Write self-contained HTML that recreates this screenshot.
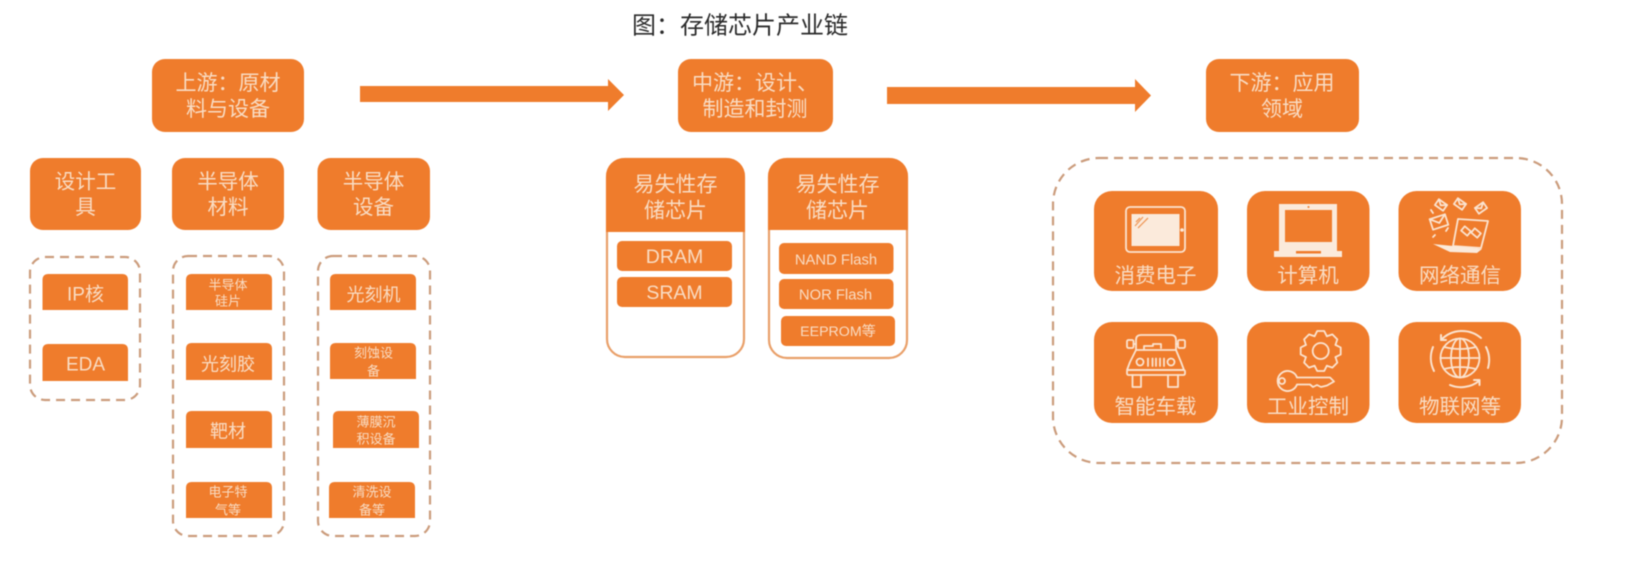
<!DOCTYPE html>
<html lang="zh"><head><meta charset="utf-8"><title>存储芯片产业链</title>
<style>
html,body{margin:0;padding:0;background:#fff;width:1638px;height:570px;overflow:hidden}
svg{display:block;filter:blur(.6px)}
text{font-family:"Liberation Sans","Noto Sans CJK SC",sans-serif;text-anchor:middle;dominant-baseline:central;fill:#f9dcc3}
.o{fill:#ef7c2c}
.d{fill:none;stroke:#cb9c7c;stroke-width:2.2;stroke-dasharray:9 6}
.i{fill:none;stroke:#fbe3cf;stroke-width:1.8;stroke-linejoin:round;stroke-linecap:round}
.f{fill:#fbeadb}
</style></head><body>
<svg width="1638" height="570" viewBox="0 0 1638 570" xmlns="http://www.w3.org/2000/svg">
<text x="740" y="26" font-size="24" style="fill:#2b2b2b">图：存储芯片产业链</text>

<!-- top boxes -->
<rect class="o" x="152" y="59" width="152" height="73" rx="13"/>
<rect class="o" x="678" y="59" width="155" height="73" rx="13"/>
<rect class="o" x="1206" y="59" width="153" height="73" rx="13"/>
<g font-size="21">
<text x="228" y="83.500">上游：原材</text><text x="228" y="109.500">料与设备</text>
<text x="755" y="83.500">中游：设计、</text><text x="755" y="109.500">制造和封测</text>
<text x="1282" y="83.500">下游：应用</text><text x="1282" y="109.500">领域</text>
</g>

<!-- arrows -->
<polygon class="o" points="360,86 608,86 608,79 624,95 608,111 608,102 360,102"/>
<polygon class="o" points="887,87 1135,87 1135,79 1151,95.5 1135,112 1135,104 887,104"/>

<!-- upstream -->
<rect class="o" x="30" y="158" width="111" height="72" rx="13"/>
<rect class="o" x="172" y="158" width="112" height="72" rx="13"/>
<rect class="o" x="317.500" y="158" width="112.500" height="72" rx="13"/>
<g font-size="20.500">
<text x="85.500" y="182">设计工</text><text x="85.500" y="207.500">具</text>
<text x="228" y="182">半导体</text><text x="228" y="207.500">材料</text>
<text x="373.500" y="182">半导体</text><text x="373.500" y="207.500">设备</text>
</g>
<rect class="d" x="30" y="257" width="110" height="143" rx="15"/>
<rect class="d" x="173" y="256" width="111" height="280" rx="15"/>
<rect class="d" x="318" y="256" width="112" height="280" rx="15"/>

<g class="o">
<path d="M42.500 310V280Q42.500 274 48.500 274H122Q128 274 128 280V310Z"/>
<path d="M42.500 381V350Q42.500 344 48.500 344H122Q128 344 128 350V381Z"/>
<path d="M186 310V280Q186 274 192 274H266Q272 274 272 280V310Z"/>
<path d="M186 380V349Q186 343 192 343H266Q272 343 272 349V380Z"/>
<path d="M186 448V417Q186 411 192 411H266Q272 411 272 417V448Z"/>
<path d="M186 518V488Q186 482 192 482H266Q272 482 272 488V518Z"/>
<path d="M330 310V280Q330 274 336 274H410Q416 274 416 280V310Z"/>
<path d="M330 379V349Q330 343 336 343H410Q416 343 416 349V379Z"/>
<path d="M333 448V417Q333 411 339 411H413Q419 411 419 417V448Z"/>
<path d="M329 518V488Q329 482 335 482H409Q415 482 415 488V518Z"/>
</g>
<g font-size="18">
<text x="85.500" y="295" font-size="19">IP核</text>
<text x="85.500" y="365" font-size="19">EDA</text>
<text x="228" y="364.500">光刻胶</text>
<text x="228" y="431.500">靶材</text>
<text x="373.500" y="295">光刻机</text>
</g>
<g font-size="13">
<text x="228" y="285">半导体</text><text x="228" y="301">硅片</text>
<text x="228" y="492">电子特</text><text x="228" y="510">气等</text>
<text x="373.500" y="353">刻蚀设</text><text x="373.500" y="371">备</text>
<text x="376" y="422">薄膜沉</text><text x="376" y="439">积设备</text>
<text x="372" y="492">清洗设</text><text x="372" y="510">备等</text>
</g>

<!-- midstream -->
<rect x="607" y="159" width="137" height="198" rx="18" fill="#fff" stroke="#e9a06a" stroke-width="2.200"/>
<rect x="769" y="159" width="138" height="199" rx="18" fill="#fff" stroke="#e9a06a" stroke-width="2.200"/>
<path class="o" d="M606 232V176a18 18 0 0 1 18-18H727a18 18 0 0 1 18 18V232Z"/>
<path class="o" d="M768 230V176a18 18 0 0 1 18-18H890a18 18 0 0 1 18 18V230Z"/>
<g font-size="21">
<text x="675.500" y="185">易失性存</text><text x="675.500" y="211">储芯片</text>
<text x="837.500" y="185">易失性存</text><text x="837.500" y="211">储芯片</text>
</g>
<rect class="o" x="617" y="241" width="115" height="30" rx="5"/>
<rect class="o" x="617" y="277" width="115" height="30" rx="5"/>
<rect class="o" x="779" y="243" width="114.500" height="31" rx="5"/>
<rect class="o" x="779" y="279" width="114.500" height="30" rx="5"/>
<rect class="o" x="781" y="316" width="114" height="30" rx="5"/>
<text x="674.500" y="257" font-size="19.500">DRAM</text>
<text x="674.500" y="293" font-size="19.500">SRAM</text>
<text x="836" y="260.500" font-size="14.800">NAND Flash</text>
<text x="835.500" y="295.500" font-size="14.800">NOR Flash</text>
<text x="838" y="332" font-size="14.200">EEPROM等</text>

<!-- downstream -->
<rect class="d" x="1053" y="158" width="509" height="305" rx="46"/>
<g class="o">
<rect x="1094" y="191" width="124" height="100" rx="18"/>
<rect x="1247" y="191" width="122.500" height="100" rx="18"/>
<rect x="1398.500" y="191" width="122.500" height="100" rx="18"/>
<rect x="1094" y="322" width="124" height="101" rx="18"/>
<rect x="1247" y="322" width="122.500" height="101" rx="18"/>
<rect x="1398.500" y="322" width="122.500" height="101" rx="18"/>
</g>
<g font-size="20.500">
<text x="1155.500" y="276">消费电子</text>
<text x="1308" y="276">计算机</text>
<text x="1460" y="276">网络通信</text>
<text x="1155.500" y="407">智能车载</text>
<text x="1308" y="407">工业控制</text>
<text x="1460" y="407">物联网等</text>
</g>

<!-- tablet -->
<g transform="translate(1094 191)">
<rect class="i" x="32" y="16" width="59" height="45" rx="4" stroke-width="2"/>
<rect class="f" x="37.500" y="23" width="48" height="32"/>
<path d="M41 35L49 26M44 37L54 27M42 31L46 27" stroke="#ef9a5c" stroke-width="1.300" fill="none"/>
<circle cx="88" cy="39" r="1.800" class="f"/>
</g>
<!-- laptop -->
<g transform="translate(1094 191)">
<path class="f" fill-rule="evenodd" d="M185 13H243V60H185ZM191 19V51H238V19Z"/>
<path class="f" d="M180 60H248V66H180Z"/>
<rect x="202" y="60" width="25" height="2.500" fill="#ef7c2c"/>
<circle cx="214.500" cy="16" r="1" fill="#ef7c2c"/>
</g>
<!-- network -->
<g transform="translate(1398 191)">
<path class="i" d="M60 28L90 30L83 57L55 55Z" stroke-width="1.600"/>
<path class="f" d="M35 53L55 55L84 58L79 62L52 61Z"/>
<g class="i" stroke-width="1.300">
<g transform="translate(41 31) rotate(-18)"><rect x="-8" y="-5.500" width="16" height="11"/><path d="M-8 -5.500L0 1L8 -5.500"/></g>
<g transform="translate(43 14) rotate(35)"><rect x="-5" y="-3.500" width="10" height="7"/><path d="M-5 -3.500L0 .5L5 -3.500"/></g>
<g transform="translate(62 13) rotate(35)"><rect x="-5" y="-3.500" width="10" height="7"/><path d="M-5 -3.500L0 .5L5 -3.500"/></g>
<g transform="translate(83 17) rotate(-35)"><rect x="-5" y="-3.500" width="10" height="7"/><path d="M-5 -3.500L0 .5L5 -3.500"/></g>
<g transform="translate(68 40) rotate(40)"><rect x="-4" y="-2.800" width="8" height="5.600"/></g>
<g transform="translate(78 42) rotate(40)"><rect x="-4" y="-2.800" width="8" height="5.600"/></g>
</g>
<path class="i" d="M33 19L35 22M35 46L37 44M50 37L48 40" stroke-width="1.100"/>
</g>
<!-- car -->
<g transform="translate(1094 322)" class="i" stroke-width="2">
<rect x="33" y="18" width="6.500" height="8" rx="1.500"/>
<rect x="84" y="18" width="7" height="8" rx="1.500"/>
<path d="M42 28V18Q42 13 47 13H77Q82 13 82 18V28"/>
<path d="M39.500 22H42M82 22H84"/>
<path d="M50 27V24H59V22H67V26"/>
<path d="M42 28H82L87 40L90 48H33L36 40Z"/>
<rect x="33" y="48" width="58" height="5" rx="1.500"/>
<path d="M38.500 53V65H47V53M74 53V65H84V53"/>
<circle cx="46" cy="40" r="3.500"/><circle cx="77" cy="40" r="3.500"/>
<path d="M54 36.500V44M58.500 36.500V44M62 36.500V44M66 36.500V44M70 36.500V44"/>
</g>
<!-- gear and key -->
<g transform="translate(1320.700 351)" class="i" stroke-width="2">
<circle r="8"/>
<polyline points="14.800,-6.100 20,-3.500 20,3.500 14.800,6.100"/>
<polyline transform="rotate(45)" points="14.800,-6.100 20,-3.500 20,3.500 14.800,6.100"/>
<polyline transform="rotate(90)" points="14.800,-6.100 20,-3.500 20,3.500 14.800,6.100"/>
<polyline transform="rotate(135)" points="14.800,-6.100 20,-3.500 20,3.500 14.800,6.100"/>
<polyline transform="rotate(180)" points="14.800,-6.100 20,-3.500 20,3.500 14.800,6.100"/>
<polyline transform="rotate(225)" points="14.800,-6.100 20,-3.500 20,3.500 14.800,6.100"/>
<polyline transform="rotate(270)" points="14.800,-6.100 20,-3.500 20,3.500 14.800,6.100"/>
<polyline transform="rotate(315)" points="14.800,-6.100 20,-3.500 20,3.500 14.800,6.100"/>
</g>
<g transform="translate(1094 322)" class="i" stroke-width="2">
<path d="M203 55.500A10 10 0 1 0 203 62.500H216L219 65L223 63L227 65L233 63.500L240 59.500L236 55.500Z"/>
<circle cx="188" cy="59" r="3"/>
</g>
<!-- globe -->
<g transform="translate(1398 322)" class="i" stroke-width="1.700">
<circle cx="62" cy="36" r="19.500"/>
<ellipse cx="62" cy="36" rx="9" ry="19.500"/>
<path d="M62 16.500V55.500M42.500 36H81.500M46 25Q62 29 78 25M46 47Q62 43 78 47"/>
<path d="M43 18A29 29 0 0 1 83 16" stroke-width="2"/>
<path d="M43 13V18H48" stroke-width="2"/>
<path d="M88 25A29 29 0 0 1 90 46" stroke-width="2"/>
<path d="M36 49A29 29 0 0 1 35 25" stroke-width="2"/>
<path d="M52 63A29 29 0 0 0 81 59" stroke-width="2"/>
<path d="M76 58H81.500V63" stroke-width="2"/>
</g>
</svg>
</body></html>
